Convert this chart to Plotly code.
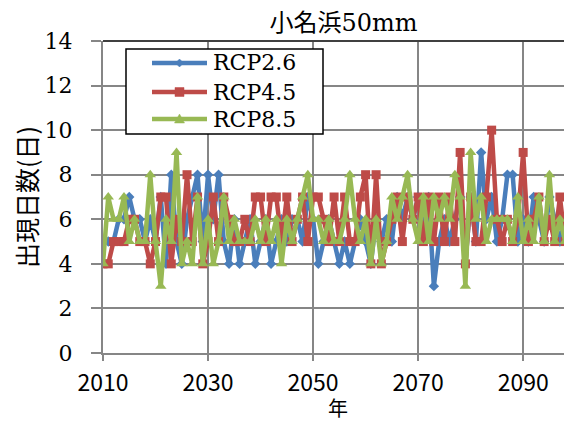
import plotly.graph_objects as go

years = list(range(2010, 2101))

rcp26 = [5, 5, 5, 6, 6, 7, 6, 6, 5, 6,
         5, 7, 4, 8, 5, 4, 6, 7, 8, 5,
         8, 6, 8, 5, 4, 6, 4, 5, 6, 4,
         5, 6, 4, 5, 6, 5, 6, 6, 5, 7,
         6, 4, 5, 6, 5, 4, 5, 4, 5, 6,
         5, 4, 6, 5, 6, 5, 7, 6, 7, 6,
         7, 6, 7, 3, 5, 6, 5, 6, 7, 4,
         7, 5, 9, 6, 7, 5, 6, 8, 8, 5,
         6, 5, 7, 6, 5, 7, 6, 5, 6, 5, 6]

rcp45 = [4, 4, 5, 5, 5, 6, 6, 5, 5, 4,
         5, 7, 7, 4, 6, 5, 8, 5, 7, 4,
         5, 7, 5, 7, 6, 5, 5, 6, 5, 7,
         7, 5, 7, 7, 5, 7, 5, 6, 7, 5,
         7, 7, 6, 5, 7, 5, 7, 5, 5, 7,
         8, 4, 8, 4, 5, 6, 7, 5, 7, 6,
         7, 5, 7, 5, 7, 5, 7, 5, 9, 4,
         7, 5, 5, 7, 10, 6, 5, 6, 5, 6,
         9, 5, 6, 7, 5, 6, 5, 7, 5, 7, 5]

rcp85 = [4, 7, 6, 6, 7, 5, 6, 5, 5, 8,
         5, 3, 6, 5, 9, 4, 5, 4, 7, 4,
         6, 4, 5, 7, 5, 6, 5, 5, 5, 6,
         5, 6, 5, 6, 4, 6, 5, 6, 7, 8,
         6, 6, 5, 6, 5, 5, 6, 8, 6, 5,
         6, 4, 6, 4, 5, 7, 6, 7, 8, 6,
         5, 7, 5, 7, 6, 7, 6, 8, 7, 3,
         9, 6, 7, 5, 6, 6, 6, 6, 5, 7,
         5, 6, 5, 7, 5, 8, 5, 6, 5, 8, 6]

series_names = ["RCP2.6", "RCP4.5", "RCP8.5"]
colors = ["#4a7ebb", "#be4b48", "#98b954"]
symbols = ["diamond", "square", "triangle-up"]
sizes = [8, 9, 10]

W, H = 564, 415
ML, MR, MT, MB = 95, 0, 33, 70
PW, PH = W - ML - MR, H - MT - MB

fig = go.Figure()
for name, vals, c, s, ms in zip(series_names, [rcp26, rcp45, rcp85], colors, symbols, sizes):
    fig.add_trace(go.Scatter(
        x=years, y=vals, name=name, mode="lines+markers",
        line=dict(color=c, width=4.5),
        marker=dict(symbol=s, size=ms, color=c),
    ))

serif = "DejaVu Serif, Noto Sans CJK JP, serif"
cjk = "Noto Sans CJK JP, sans-serif"
fig.update_layout(
    width=W, height=H,
    margin=dict(l=ML, r=MR, t=MT, b=MB),
    paper_bgcolor="white", plot_bgcolor="white",
    title=dict(text="小名浜50mm", x=0.595, xanchor="center", y=0.966, yanchor="middle",
               font=dict(family=serif, size=24, color="black")),
    xaxis=dict(range=[2010, 2099.3], tickvals=[2010, 2030, 2050, 2070, 2090],
               automargin=False,
               showgrid=True, gridcolor="#868686", gridwidth=1.5,
               showline=True, linecolor="#868686", linewidth=2,
               ticks="outside", ticklen=6, tickcolor="#868686", tickwidth=2,
               ticklabelstandoff=2,
               tickfont=dict(family=cjk, size=23, color="black"),
               zeroline=False),
    yaxis=dict(range=[0, 14], tickvals=list(range(0, 15, 2)),
               automargin=False,
               showgrid=True, gridcolor="#868686", gridwidth=1.5,
               showline=True, linecolor="#868686", linewidth=2,
               ticks="outside", ticklen=10, tickcolor="#868686", tickwidth=2,
               ticklabelstandoff=14,
               tickfont=dict(family=serif, size=22, color="black"),
               title=dict(text="出現日数(日)", font=dict(family=cjk, size=25, color="black"), standoff=0),
               zeroline=False),
    showlegend=False,
)

fig.add_annotation(text="年", xref="paper", yref="paper", x=0.501, y=-0.174,
                   xanchor="center", yanchor="middle", showarrow=False, borderpad=0,
                   font=dict(family=cjk, size=20, color="black"))
fig.add_shape(type="line", xref="paper", yref="paper", x0=0, x1=1, y0=1, y1=1,
              line=dict(color="#404040", width=2))

# legend box (drawn by hand for exact size)
def px(x):
    return (x - ML) / PW

def py(y):
    return 1 - (y - MT) / PH

fig.add_shape(type="rect", xref="paper", yref="paper",
              x0=px(118), x1=px(315), y0=py(126), y1=py(41),
              fillcolor="white", line=dict(color="black", width=1.5))
row_y = [55, 84, 111]
lx0, lx1, tx = 144, 199, 203
for name, c, s, yy in zip(series_names, colors, symbols, row_y):
    fig.add_shape(type="line", xref="paper", yref="paper",
                  x0=px(lx0), x1=px(lx1), y0=py(yy), y1=py(yy),
                  line=dict(color=c, width=4.5))
    cx = (lx0 + lx1) / 2
    if s == "diamond":
        r = 4
        path = (f"M {px(cx)} {py(yy - r)} L {px(cx + r)} {py(yy)} "
                f"L {px(cx)} {py(yy + r)} L {px(cx - r)} {py(yy)} Z")
    elif s == "square":
        r = 4.5
        path = (f"M {px(cx - r)} {py(yy - r)} L {px(cx + r)} {py(yy - r)} "
                f"L {px(cx + r)} {py(yy + r)} L {px(cx - r)} {py(yy + r)} Z")
    else:
        r = 5
        path = (f"M {px(cx)} {py(yy - r)} L {px(cx + r)} {py(yy + r * 0.8)} "
                f"L {px(cx - r)} {py(yy + r * 0.8)} Z")
    fig.add_shape(type="path", xref="paper", yref="paper", path=path,
                  fillcolor=c, line=dict(color=c, width=0.5))
    fig.add_annotation(text=name, xref="paper", yref="paper", x=px(tx), y=py(yy),
                       xanchor="left", yanchor="middle", showarrow=False,
                       font=dict(family=serif, size=22, color="black"))

fig.write_html("out.html")
